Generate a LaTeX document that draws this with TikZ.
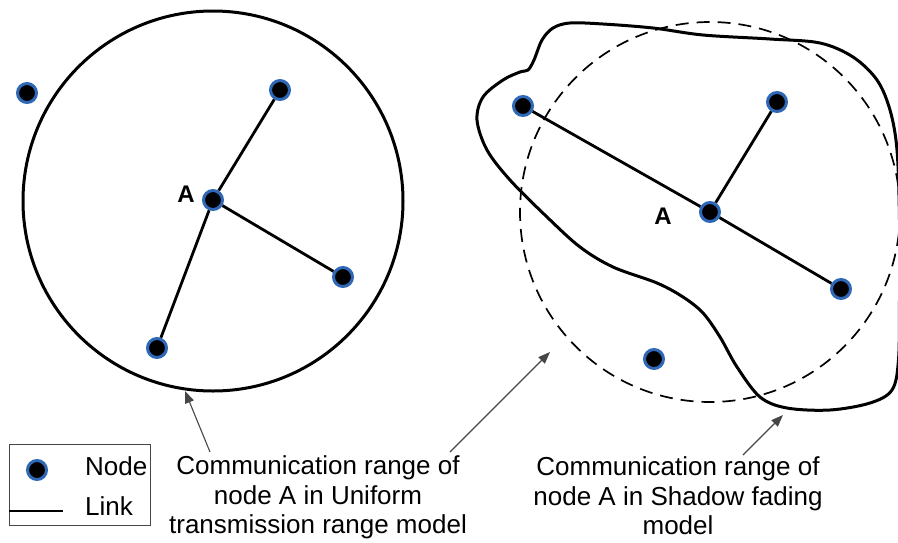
\documentclass[tikz,border=0pt]{standalone}
\usepackage{fontspec}
\setmainfont{Liberation Sans}
\usetikzlibrary{arrows.meta}
\definecolor{ringblue}{RGB}{48,104,184}
\definecolor{pointer}{RGB}{70,70,70}
\tikzset{
  netnode/.style={circle, fill=black, draw=ringblue, line width=3pt, minimum size=19pt, inner sep=0pt},
  netlink/.style={line width=2.8pt},
  rangering/.style={line width=3pt},
  shadowring/.style={line width=1.7pt, dash pattern=on 13pt off 8pt},
  pointerarrow/.style={draw=pointer, line width=1.1pt, -{Triangle[length=12pt, width=9pt]}},
  captext/.style={align=center, inner sep=0pt, anchor=north, font=\fontsize{26}{29.5}\selectfont},
  nodelabel/.style={font=\fontsize{24}{24}\selectfont\bfseries, inner sep=0pt},
  legendtext/.style={anchor=base west, inner sep=0pt, font=\fontsize{26}{26}\selectfont}
}
\begin{document}
\begin{tikzpicture}[x=1pt, y=-1pt]
  \useasboundingbox (0,0) rectangle (898,542);
  \clip (0,0) rectangle (898,542);

  % ---------- uniform transmission range model ----------
  \coordinate (ucenter) at (213,201);
  \draw[rangering] (ucenter) circle[radius=190];

  \node[netnode] (uout) at (27,93) {};
  \node[netnode] (uA) at (213,200) {};
  \node[netnode] (u1) at (280,90) {};
  \node[netnode] (u2) at (343,277) {};
  \node[netnode] (u3) at (157,348) {};
  \draw[netlink] (uA) -- (u1);
  \draw[netlink] (uA) -- (u2);
  \draw[netlink] (uA) -- (u3);
  \node[nodelabel] (uAlabel) at (186,194) {A};

  % ---------- shadow fading model ----------
  \coordinate (scenter) at (710,212);
  \draw[shadowring] (scenter) circle[radius=190];
  \draw[rangering] plot[smooth cycle, tension=0.55] coordinates {
    (528,70) (534,60) (542,40) (553,28) (570,23) (603,24) (653,28) (703,35)
    (770,39) (820,43) (853,57) (877,80) (890,110) (897,150) (899.5,220)
    (899.5,300) (898.5,360) (892,390) (870,403) (830,410) (787,408) (760,397)
    (737,367) (720,337) (703,313) (683,297) (657,283) (613,267) (580,247)
    (547,217) (510,180) (487,150) (477,120) (483,97) (503,80) (520,72)
  };

  \node[netnode] (sA) at (710,212) {};
  \node[netnode] (s1) at (523,106) {};
  \node[netnode] (s2) at (777,102) {};
  \node[netnode] (s3) at (841,289) {};
  \node[netnode] (sout) at (654,359) {};
  \draw[netlink] (sA) -- (s1);
  \draw[netlink] (sA) -- (s2);
  \draw[netlink] (sA) -- (s3);
  \node[nodelabel] (sAlabel) at (663,216) {A};

  % ---------- captions and pointers ----------
  \node[captext] (ucap) at (318,455.5) {Communication range of\\node A in Uniform\\transmission range model};
  \node[captext] (scap) at (678,456.5) {Communication range of\\node A in Shadow fading\\model};

  \coordinate (p1tail) at (210,452);
  \coordinate (p1tip) at (185,391);
  \coordinate (p2tail) at (450,452);
  \coordinate (p2tip) at (550,352);
  \coordinate (p3tail) at (743,455);
  \coordinate (p3tip) at (783,415);
  \draw[pointerarrow] (p1tail) -- (p1tip);
  \draw[pointerarrow] (p2tail) -- (p2tip);
  \draw[pointerarrow] (p3tail) -- (p3tip);

  % ---------- legend ----------
  \node[draw=pointer, line width=1.1pt, minimum width=141pt, minimum height=81pt, inner sep=0pt, anchor=north west] (legend) at (9,444) {};
  \node[netnode] (legnode) at (37,470) {};
  \node[legendtext] (legnodetext) at (85,475) {Node};
  \coordinate (linkstart) at (9,511);
  \coordinate (linkend) at (63,511);
  \draw[netlink] (linkstart) -- (linkend);
  \node[legendtext] (leglinktext) at (85,515) {Link};
\end{tikzpicture}
\end{document}
